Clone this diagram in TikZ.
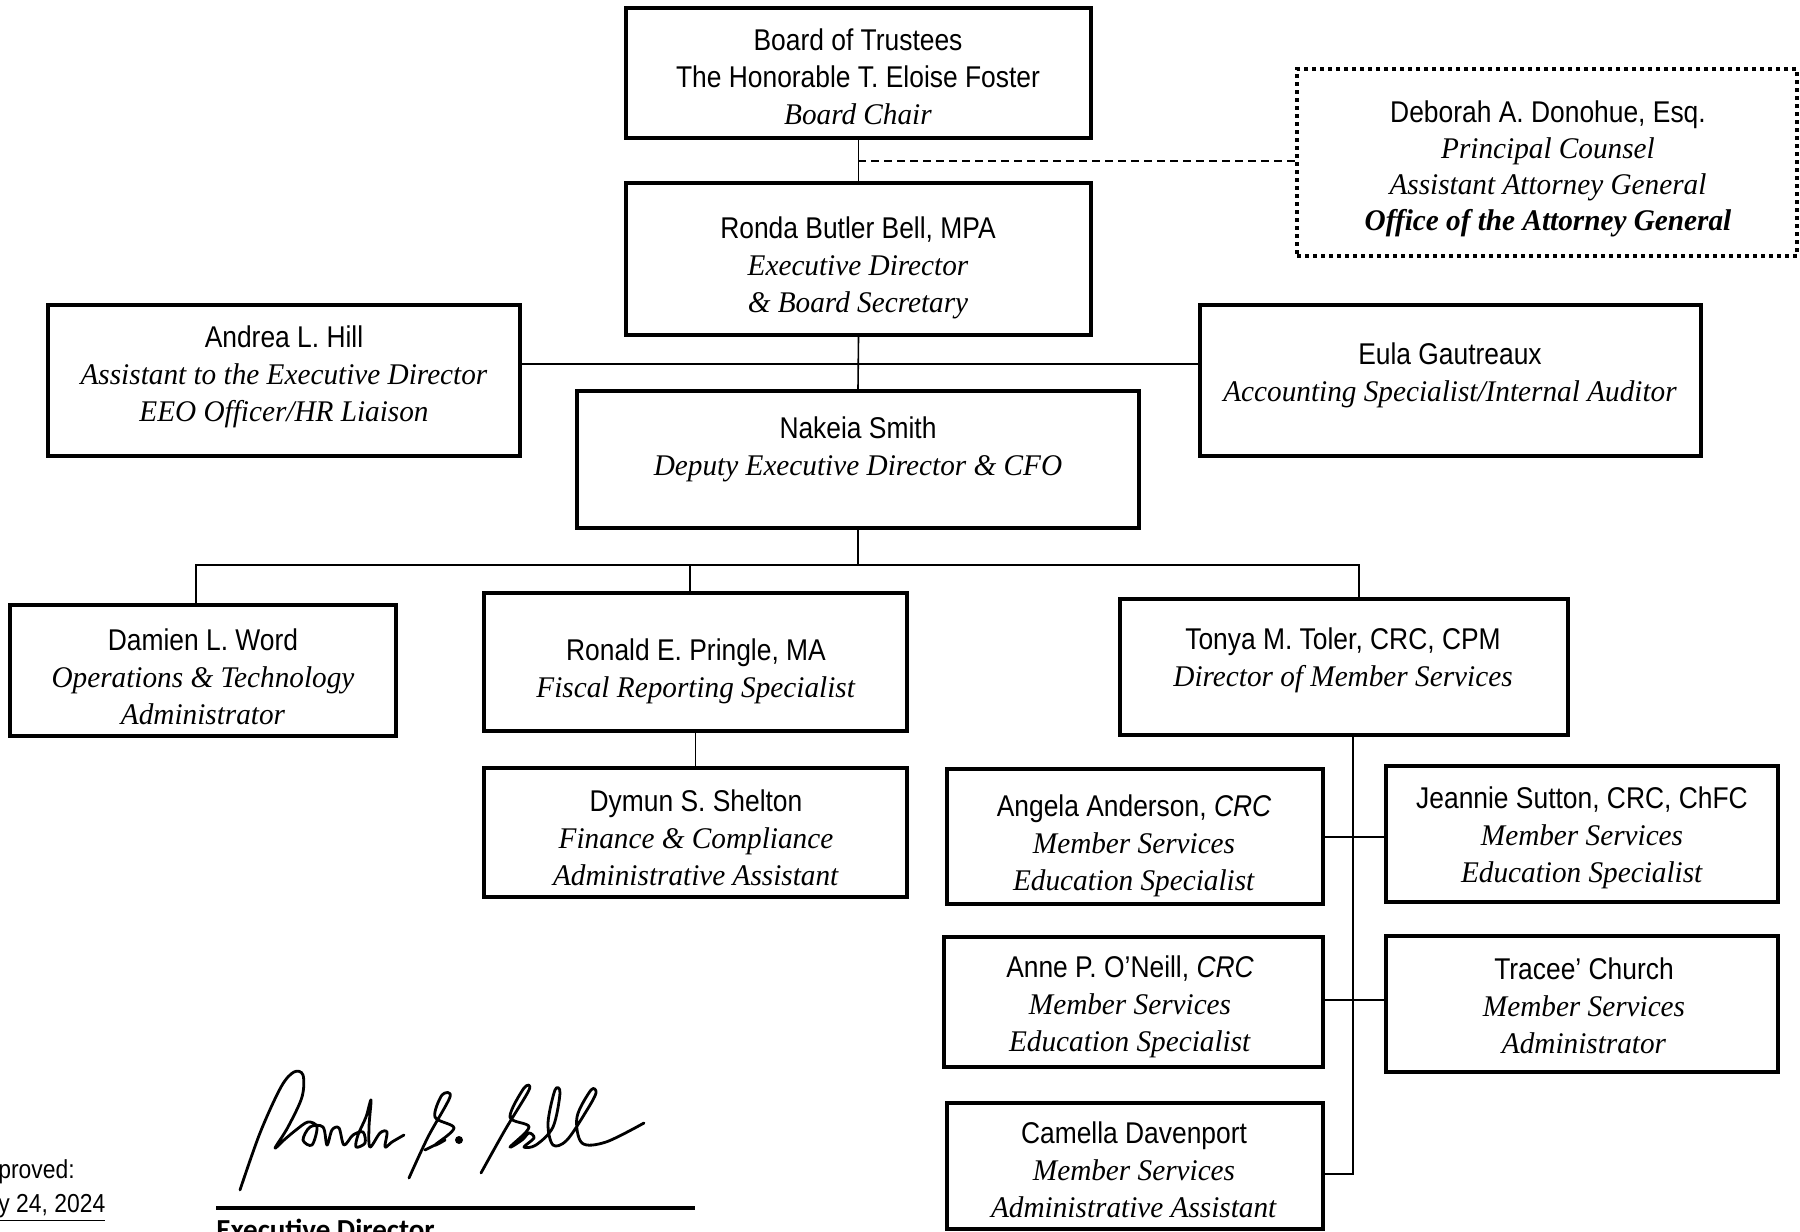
\documentclass[tikz,border=0pt]{standalone}
\usepackage{fontspec}
\setmainfont{Liberation Serif}[FakeStretch=0.975]
\newfontfamily\namefont{Liberation Sans}[FakeStretch=0.88]
\newfontfamily\sigfont{Carlito}
\usetikzlibrary{fit}
\newcommand\pname[1]{{\namefont #1}}
\newcommand\prole[1]{\textit{#1}}
\begin{document}
\begin{tikzpicture}[x=0.5pt,y=-0.5pt,
  orgbox/.style={draw, line width=2pt, inner sep=0pt},
  dotbox/.style={draw, line width=2pt, inner sep=0pt, dash pattern=on 2pt off 2pt},
  conn/.style={line width=0.8pt},
  dashconn/.style={line width=0.8pt, dash pattern=on 4pt off 2.5pt},
  txt/.style={align=center, inner sep=0pt, font=\fontsize{15}{18.6}\selectfont},
  sig/.style={line width=1.4pt, line cap=round, line join=round}]
\useasboundingbox (0,0) rectangle (1800,1232);
\clip (0,0) rectangle (1800,1232);
\fill[white] (0,0) rectangle (1800,1232);

% boxes
\node[orgbox, fit={(626,8) (1091,138)}] (board) {};
\node[orgbox, fit={(626,183) (1091,335)}] (ronda) {};
\node[dotbox, fit={(1297,69) (1797,256)}] (deb) {};
\node[orgbox, fit={(48,305) (520,456)}] (andrea) {};
\node[orgbox, fit={(1200,305) (1701,456)}] (eula) {};
\node[orgbox, fit={(577,391) (1139,528)}] (nakeia) {};
\node[orgbox, fit={(10,605) (396,736)}] (damien) {};
\node[orgbox, fit={(484,593) (907,731)}] (ronald) {};
\node[orgbox, fit={(484,768) (907,897)}] (dymun) {};
\node[orgbox, fit={(1120,599) (1568,735)}] (tonya) {};
\node[orgbox, fit={(947,769) (1323,904)}] (angela) {};
\node[orgbox, fit={(1386,766) (1778,902)}] (jeannie) {};
\node[orgbox, fit={(944,937) (1323,1067)}] (anne) {};
\node[orgbox, fit={(1386,936) (1778,1072)}] (tracee) {};
\node[orgbox, fit={(947,1103) (1323,1229)}] (camella) {};

% texts
\node[txt] (boardT) at (858,77) {\pname{Board of Trustees}\\\pname{The Honorable T. Eloise Foster}\\\prole{Board Chair}};
\node[txt] (rondaT) at (858,268) {\pname{Ronda Butler Bell, MPA}\\\prole{Executive Director}\\\prole{\& Board Secretary}};
\node[txt, font=\fontsize{15}{18}\selectfont] (debT) at (1548,169) {\pname{Deborah A. Donohue, Esq.}\\\prole{Principal Counsel}\\\prole{Assistant Attorney General}\\\textbf{\textit{Office of the Attorney General}}};
\node[txt] (andreaT) at (284,377) {\pname{Andrea L. Hill}\\\prole{Assistant to the Executive Director}\\\prole{EEO Officer/HR Liaison}};
\node[txt] (eulaT) at (1450,375) {\pname{Eula Gautreaux}\\\prole{Accounting Specialist/Internal Auditor}};
\node[txt] (nakeiaT) at (858,449) {\pname{Nakeia Smith}\\\prole{Deputy Executive Director \& CFO}};
\node[txt] (damienT) at (203,677) {\pname{Damien L. Word}\\\prole{Operations \& Technology}\\\prole{Administrator}};
\node[txt] (ronaldT) at (696,671) {\pname{Ronald E. Pringle, MA}\\\prole{Fiscal Reporting Specialist}};
\node[txt] (dymunT) at (696,838) {\pname{Dymun S. Shelton}\\\prole{Finance \& Compliance}\\\prole{Administrative Assistant}};
\node[txt] (tonyaT) at (1343,660) {\pname{Tonya M. Toler, CRC, CPM}\\\prole{Director of Member Services}};
\node[txt] (angelaT) at (1134,846) {\pname{Angela Anderson, \itshape CRC}\\\prole{Member Services}\\\prole{Education Specialist}};
\node[txt] (jeannieT) at (1582,838) {\pname{Jeannie Sutton, CRC, ChFC}\\\prole{Member Services}\\\prole{Education Specialist}};
\node[txt] (anneT) at (1130,1007) {\pname{Anne P. O’Neill, \itshape CRC}\\\prole{Member Services}\\\prole{Education Specialist}};
\node[txt] (traceeT) at (1584,1006) {\pname{Tracee’ Church}\\\prole{Member Services}\\\prole{Administrator}};
\node[txt] (camellaT) at (1134,1170) {\pname{Camella Davenport}\\\prole{Member Services}\\\prole{Administrative Assistant}};

% connectors
\draw[conn] (board.south) -- (ronda.north);
\coordinate (dj) at (858,161);
\draw[dashconn] (dj) -- (dj -| deb.west);
\draw[conn] (ronda.south) -- (nakeia.north);
\coordinate (hl) at (858,364);
\draw[conn] (hl -| andrea.east) -- (hl -| eula.west);
\coordinate (bus) at (858,565);
\draw[conn] (nakeia.south) -- (bus);
\coordinate (dD) at (196,565);
\coordinate (dR) at (690,565);
\coordinate (dT) at (1359,565);
\draw[conn] (dD |- damien.north) -- (dD) -- (dT) -- (dT |- tonya.north);
\draw[conn] (dR) -- (dR |- ronald.north);
\draw[conn] (ronald.south) -- (dymun.north);
\coordinate (tv) at (1353,1174);
\draw[conn] (tv |- tonya.south) -- (tv) -- (tv -| camella.east);
\coordinate (r1) at (1353,837);
\draw[conn] (r1 -| angela.east) -- (r1 -| jeannie.west);
\coordinate (r2) at (1353,1000);
\draw[conn] (r2 -| anne.east) -- (r2 -| tracee.west);

% approval text
\node[anchor=base west, inner sep=0pt, font=\fontsize{13}{16}\selectfont\namefont] (appr) at (-2,1178) {proved:};
\node[anchor=base west, inner sep=0pt, font=\fontsize{13}{16}\selectfont\namefont] (date) at (-2,1212) {\underline{y 24, 2024}};

% signature
\draw[sig] plot[smooth, tension=0.55] coordinates {(240,1190) (260,1133) (281,1087) (294,1072) (303,1075) (302,1097) (288,1127) (275,1148) (284,1140) (296,1130) (308,1122) (317,1127) (312,1145) (303,1140) (310,1127) (323,1127) (327,1145) (332,1130) (339,1128) (344,1145) (353,1135) (363,1132) (365,1143) (356,1147) (358,1135) (366,1117) (371,1100) (369,1127) (370,1147) (380,1133) (387,1132) (385,1147) (392,1142) (404,1135)};
\draw[sig] plot[smooth, tension=0.55] coordinates {(409,1178) (428,1137) (450,1097) (442,1095) (435,1117) (454,1128) (435,1145) (445,1140) (425,1150)};
\fill (459,1140) circle[radius=2pt];
\draw[sig] plot[smooth, tension=0.55] coordinates {(481,1173) (505,1130) (529,1090) (524,1088) (510,1117) (529,1127) (510,1147) (522,1140) (529,1133) (534,1138) (524,1147) (536,1145) (553,1127) (560,1093) (555,1090) (548,1123) (553,1145) (567,1140) (587,1110) (596,1093) (591,1090) (577,1117) (582,1143) (606,1142) (644,1123)};
\coordinate (sl) at (216,1208);
\coordinate (sr) at (695,1208);
\draw[line width=1.8pt] (sl) -- (sr);
\node[anchor=base west, inner sep=0pt, font=\fontsize{14.5}{17}\selectfont\sigfont\bfseries] (exd) at (216,1239) {Executive Director};
\end{tikzpicture}
\end{document}
